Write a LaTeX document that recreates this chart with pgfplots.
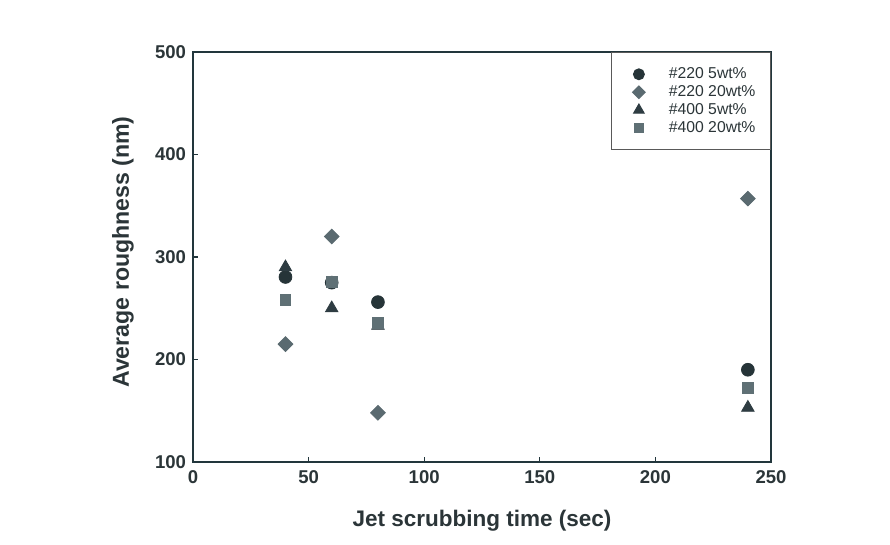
\documentclass[border=0pt]{standalone}
\usepackage{fontspec}
\setmainfont{Liberation Sans}
\usepackage{pgfplots}
\pgfplotsset{compat=1.18}
\definecolor{axc}{HTML}{22363C}
\definecolor{txc}{HTML}{2B3538}
\definecolor{cCirc}{HTML}{263438}
\definecolor{cDiam}{HTML}{5A6A70}
\definecolor{cTri}{HTML}{2E3C42}
\definecolor{cSq}{HTML}{5F7075}
\begin{document}
\begin{tikzpicture}
\useasboundingbox (-96.5bp,-41.5bp) rectangle (348.5bp,231bp);
\begin{axis}[
  at={(0,0)}, anchor=south west,
  scale only axis, width=289bp, height=205bp,
  xmin=0, xmax=250, ymin=100, ymax=500,
  xtick={0,50,...,250}, ytick={100,200,...,500},
  tick pos=left, tick align=inside,
  major tick length=2.5bp,
  axis line style={axc, line width=0.9pt},
  every tick/.style={axc, line width=0.7pt},
  /pgf/number format/assume math mode=true,
  ticklabel style={font=\fontsize{9.3}{11}\selectfont\bfseries, text=txc},
  xticklabel style={yshift=-1bp},
  xlabel={Jet scrubbing time (sec)},
  ylabel={Average roughness (nm)},
  x label style={at={(axis description cs:0.5,0)}, anchor=center, yshift=-29.5bp, font=\fontsize{11.3}{13}\selectfont\bfseries, text=txc},
  y label style={at={(axis description cs:0,0.5)}, anchor=center, xshift=2.5bp, yshift=35bp, font=\fontsize{11.6}{13}\selectfont\bfseries, text=txc},
  legend style={at={(1,1)}, anchor=north east, draw=gray!70!black, line width=0.5pt,
    font=\fontsize{7.9}{9}\selectfont, text=txc, inner xsep=5.5bp, inner ysep=5.4bp,
    row sep=-2bp, legend cell align=left},
  legend image code/.code={\path[draw=none,fill=none] (0bp,0) (21bp,0); \draw[#1,every mark/.append style={scale=0.85}] plot coordinates {(8bp,0)};},
  only marks,
]
\addplot[mark=*, mark size=3.2bp, color=cCirc] coordinates {(40,280.5) (60,275) (80,256) (240,190)};
\addlegendentry{\#220 5wt\%}
\addplot[mark=square*, mark size=2.6bp, mark options={rotate=45}, color=cDiam] coordinates {(40,215) (60,320) (80,148) (240,357)};
\addlegendentry{\#220 20wt\%}
\addplot[mark=triangle*, mark size=3.6bp, color=cTri] coordinates {(40,290) (60,250) (80,233) (240,153)};
\addlegendentry{\#400 5wt\%}
\addplot[mark=square*, mark size=2.7bp, color=cSq] coordinates {(40,258) (60,276) (80,236) (240,172.5)};
\addlegendentry{\#400 20wt\%}
\end{axis}
\end{tikzpicture}
\end{document}
